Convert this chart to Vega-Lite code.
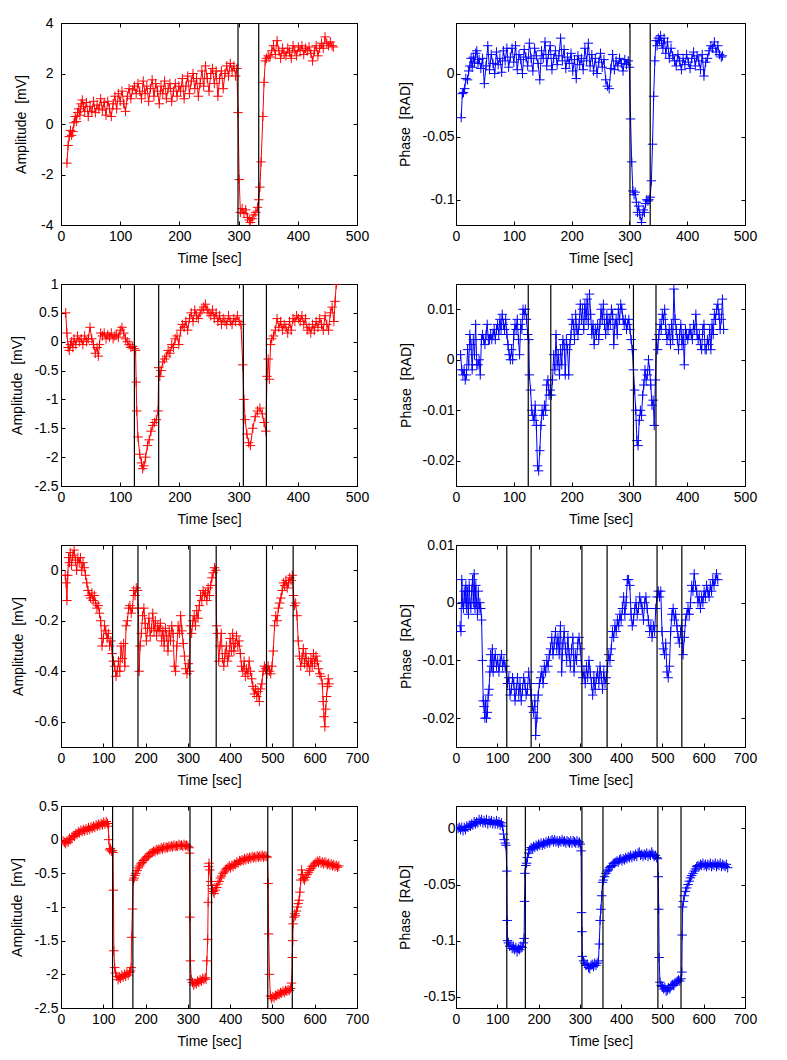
{
"$schema": "https://vega.github.io/schema/vega-lite/v6.json",
"background": "white",
"padding": {"left": 9, "top": 15, "right": 5, "bottom": 5},
"config": {
  "font": "Liberation Sans",
  "view": {"stroke": "#000", "strokeWidth": 1},
  "style": {"guide-title": {"fontWeight": "normal"}},
  "axis": {"grid": false, "domainColor": "#000", "tickColor": "#000", "tickSize": -4, "labelFont": "Liberation Sans", "labelFontSize": 14, "labelColor": "#000", "titleFont": "Liberation Sans", "titleFontSize": 14, "titleFontWeight": "normal", "titleColor": "#000", "labelFlush": false, "labelOverlap": false, "labelBound": false},
  "axisBottom": {"titleY": 37, "titleBaseline": "alphabetic"}
},
"datasets": {
"p1": [
{"t":10,"v":-1.55},{"t":12,"v":-0.85},{"t":14,"v":-0.5},{"t":16,"v":-0.25},{"t":18,"v":-0.45},{"t":20,"v":-0.3},{"t":22,"v":0.05},{"t":24,"v":0.3},{"t":26,"v":0.1},{"t":28,"v":0.45},{"t":30,"v":0.6},{"t":32,"v":0.35},{"t":34,"v":0.8},{"t":36,"v":0.95},{"t":38,"v":0.7},{"t":40,"v":0.5},{"t":43,"v":0.85},{"t":46,"v":0.3},{"t":49,"v":0.7},{"t":52,"v":0.5},{"t":55,"v":0.9},{"t":58,"v":0.45},{"t":61,"v":0.75},{"t":64,"v":0.6},{"t":67,"v":1.0},{"t":70,"v":0.55},{"t":73,"v":0.85},{"t":76,"v":0.35},{"t":79,"v":0.9},{"t":82,"v":0.6},{"t":85,"v":0.3},{"t":88,"v":0.8},{"t":91,"v":1.1},{"t":94,"v":0.6},{"t":97,"v":1.2},{"t":100,"v":0.9},{"t":103,"v":1.3},{"t":106,"v":0.8},{"t":109,"v":0.5},{"t":112,"v":1.1},{"t":115,"v":1.4},{"t":118,"v":1.0},{"t":121,"v":1.35},{"t":124,"v":1.5},{"t":127,"v":1.2},{"t":130,"v":1.6},{"t":133,"v":1.3},{"t":136,"v":1.0},{"t":139,"v":1.7},{"t":142,"v":1.2},{"t":145,"v":1.5},{"t":148,"v":0.9},{"t":151,"v":1.4},{"t":154,"v":1.75},{"t":157,"v":1.1},{"t":160,"v":1.6},{"t":163,"v":1.3},{"t":166,"v":0.8},{"t":169,"v":1.5},{"t":172,"v":1.2},{"t":175,"v":1.7},{"t":178,"v":1.0},{"t":181,"v":1.4},{"t":184,"v":1.6},{"t":187,"v":0.9},{"t":190,"v":1.3},{"t":193,"v":1.6},{"t":196,"v":1.1},{"t":199,"v":1.5},{"t":202,"v":1.3},{"t":205,"v":1.8},{"t":208,"v":1.0},{"t":211,"v":1.5},{"t":214,"v":1.9},{"t":217,"v":1.2},{"t":220,"v":1.7},{"t":223,"v":2.0},{"t":226,"v":1.4},{"t":229,"v":1.8},{"t":232,"v":1.1},{"t":235,"v":1.6},{"t":238,"v":2.1},{"t":241,"v":1.5},{"t":244,"v":2.3},{"t":247,"v":1.8},{"t":250,"v":1.3},{"t":253,"v":2.0},{"t":256,"v":2.2},{"t":259,"v":1.6},{"t":262,"v":2.1},{"t":265,"v":1.1},{"t":268,"v":1.8},{"t":271,"v":2.1},{"t":274,"v":1.4},{"t":277,"v":2.0},{"t":280,"v":2.3},{"t":283,"v":1.9},{"t":286,"v":2.4},{"t":289,"v":2.1},{"t":292,"v":2.3},{"t":295,"v":1.9},{"t":297,"v":2.2},{"t":299,"v":0.45},{"t":301,"v":-2.2},{"t":303,"v":-3.5},{"t":306,"v":-3.35},{"t":309,"v":-3.55},{"t":312,"v":-3.4},{"t":315,"v":-3.7},{"t":318,"v":-3.8},{"t":320,"v":-3.9},{"t":323,"v":-3.75},{"t":326,"v":-3.6},{"t":329,"v":-3.5},{"t":332,"v":-3.3},{"t":334,"v":-3.0},{"t":336,"v":-2.5},{"t":338,"v":-1.5},{"t":341,"v":0.3},{"t":343,"v":1.65},{"t":345,"v":2.5},{"t":347,"v":2.6},{"t":350,"v":2.7},{"t":353,"v":2.65},{"t":356,"v":2.9},{"t":359,"v":3.1},{"t":362,"v":2.75},{"t":365,"v":3.3},{"t":368,"v":2.9},{"t":371,"v":2.6},{"t":374,"v":3.0},{"t":377,"v":2.8},{"t":380,"v":2.7},{"t":383,"v":3.0},{"t":386,"v":2.85},{"t":389,"v":2.6},{"t":392,"v":3.1},{"t":395,"v":2.9},{"t":398,"v":2.7},{"t":401,"v":3.05},{"t":404,"v":2.9},{"t":407,"v":3.1},{"t":410,"v":2.75},{"t":413,"v":3.0},{"t":416,"v":2.9},{"t":419,"v":3.05},{"t":422,"v":2.8},{"t":425,"v":2.5},{"t":428,"v":2.9},{"t":431,"v":3.1},{"t":434,"v":2.7},{"t":437,"v":3.0},{"t":440,"v":3.2},{"t":443,"v":3.0},{"t":446,"v":3.45},{"t":449,"v":3.2},{"t":452,"v":3.1},{"t":455,"v":3.25},{"t":458,"v":3.1},{"t":460,"v":3.05}
],
"p2": [
{"t":9,"v":-0.035},{"t":11,"v":-0.016},{"t":13,"v":-0.015},{"t":15,"v":-0.012},{"t":17,"v":-0.004},{"t":20,"v":-0.005},{"t":22,"v":0.002},{"t":24,"v":0.006},{"t":26,"v":0.012},{"t":28,"v":0.005},{"t":30,"v":0.013},{"t":32,"v":0.009},{"t":34,"v":0.016},{"t":36,"v":0.018},{"t":38,"v":0.008},{"t":40,"v":0.011},{"t":43,"v":0.004},{"t":46,"v":0.012},{"t":49,"v":-0.008},{"t":52,"v":0.006},{"t":55,"v":0.022},{"t":58,"v":0.003},{"t":61,"v":0.015},{"t":64,"v":0.008},{"t":67,"v":0.0},{"t":70,"v":0.017},{"t":73,"v":0.007},{"t":76,"v":0.012},{"t":79,"v":0.001},{"t":82,"v":0.018},{"t":85,"v":0.01},{"t":88,"v":0.02},{"t":91,"v":0.005},{"t":94,"v":0.013},{"t":97,"v":0.02},{"t":100,"v":0.009},{"t":103,"v":0.022},{"t":106,"v":0.003},{"t":109,"v":0.015},{"t":112,"v":0.011},{"t":115,"v":0.0},{"t":118,"v":0.019},{"t":121,"v":0.013},{"t":124,"v":0.006},{"t":127,"v":0.024},{"t":130,"v":0.012},{"t":133,"v":0.002},{"t":136,"v":0.02},{"t":139,"v":0.014},{"t":142,"v":0.008},{"t":145,"v":-0.005},{"t":148,"v":0.018},{"t":151,"v":0.012},{"t":154,"v":0.025},{"t":157,"v":0.006},{"t":160,"v":0.015},{"t":163,"v":0.022},{"t":166,"v":0.003},{"t":169,"v":0.012},{"t":172,"v":0.018},{"t":175,"v":0.007},{"t":178,"v":0.014},{"t":181,"v":0.028},{"t":184,"v":0.01},{"t":187,"v":0.019},{"t":190,"v":0.004},{"t":193,"v":0.013},{"t":196,"v":0.008},{"t":199,"v":0.016},{"t":202,"v":0.002},{"t":205,"v":0.011},{"t":208,"v":-0.004},{"t":211,"v":0.014},{"t":214,"v":0.007},{"t":217,"v":0.012},{"t":220,"v":0.003},{"t":223,"v":0.02},{"t":226,"v":0.01},{"t":229,"v":0.024},{"t":232,"v":0.006},{"t":235,"v":0.015},{"t":238,"v":0.002},{"t":241,"v":0.012},{"t":244,"v":0.0},{"t":247,"v":0.009},{"t":250,"v":0.016},{"t":253,"v":0.005},{"t":256,"v":0.011},{"t":259,"v":-0.005},{"t":262,"v":-0.01},{"t":265,"v":-0.012},{"t":268,"v":0.004},{"t":271,"v":0.015},{"t":274,"v":0.003},{"t":277,"v":0.01},{"t":280,"v":0.006},{"t":283,"v":0.012},{"t":286,"v":0.008},{"t":289,"v":0.002},{"t":292,"v":0.011},{"t":295,"v":0.007},{"t":298,"v":0.01},{"t":300,"v":0.005},{"t":302,"v":-0.036},{"t":304,"v":-0.07},{"t":306,"v":-0.093},{"t":308,"v":-0.096},{"t":310,"v":-0.094},{"t":312,"v":-0.102},{"t":314,"v":-0.11},{"t":316,"v":-0.105},{"t":318,"v":-0.112},{"t":321,"v":-0.118},{"t":324,"v":-0.108},{"t":326,"v":-0.11},{"t":328,"v":-0.103},{"t":330,"v":-0.1},{"t":332,"v":-0.101},{"t":334,"v":-0.1},{"t":336,"v":-0.098},{"t":338,"v":-0.085},{"t":340,"v":-0.056},{"t":342,"v":-0.018},{"t":344,"v":0.01},{"t":346,"v":0.026},{"t":348,"v":0.022},{"t":350,"v":0.028},{"t":352,"v":0.026},{"t":354,"v":0.03},{"t":356,"v":0.024},{"t":358,"v":0.02},{"t":360,"v":0.028},{"t":363,"v":0.016},{"t":366,"v":0.025},{"t":369,"v":0.012},{"t":372,"v":0.02},{"t":375,"v":0.014},{"t":378,"v":0.01},{"t":381,"v":0.006},{"t":384,"v":0.015},{"t":387,"v":0.01},{"t":390,"v":0.003},{"t":393,"v":0.012},{"t":396,"v":0.007},{"t":399,"v":0.015},{"t":402,"v":0.009},{"t":405,"v":0.004},{"t":408,"v":0.012},{"t":411,"v":0.017},{"t":414,"v":0.006},{"t":417,"v":0.014},{"t":420,"v":0.01},{"t":423,"v":0.003},{"t":426,"v":0.015},{"t":429,"v":-0.002},{"t":432,"v":0.009},{"t":435,"v":0.012},{"t":438,"v":0.018},{"t":441,"v":0.022},{"t":444,"v":0.02},{"t":447,"v":0.025},{"t":450,"v":0.017},{"t":453,"v":0.022},{"t":456,"v":0.015},{"t":459,"v":0.013},{"t":461,"v":0.014}
],
"p3": [
{"t":8,"v":0.5},{"t":10,"v":0.15},{"t":12,"v":-0.1},{"t":14,"v":-0.15},{"t":16,"v":-0.05},{"t":18,"v":0.0},{"t":20,"v":-0.1},{"t":22,"v":0.05},{"t":25,"v":-0.05},{"t":28,"v":0.1},{"t":31,"v":0.0},{"t":34,"v":0.05},{"t":37,"v":-0.05},{"t":40,"v":0.1},{"t":43,"v":0.0},{"t":46,"v":0.05},{"t":49,"v":0.25},{"t":52,"v":0.05},{"t":55,"v":-0.05},{"t":58,"v":-0.2},{"t":61,"v":-0.1},{"t":63,"v":-0.25},{"t":65,"v":-0.05},{"t":67,"v":0.15},{"t":70,"v":0.1},{"t":73,"v":0.15},{"t":76,"v":0.05},{"t":79,"v":0.12},{"t":82,"v":0.08},{"t":85,"v":0.15},{"t":88,"v":0.05},{"t":91,"v":0.1},{"t":94,"v":0.12},{"t":97,"v":0.08},{"t":100,"v":0.2},{"t":103,"v":0.25},{"t":106,"v":0.15},{"t":109,"v":0.05},{"t":112,"v":0.0},{"t":115,"v":-0.05},{"t":118,"v":-0.1},{"t":121,"v":-0.08},{"t":124,"v":-0.12},{"t":126,"v":-0.15},{"t":127,"v":-0.7},{"t":128,"v":-1.2},{"t":130,"v":-1.65},{"t":133,"v":-1.95},{"t":136,"v":-2.1},{"t":138,"v":-2.2},{"t":140,"v":-2.15},{"t":143,"v":-2.0},{"t":146,"v":-1.8},{"t":149,"v":-1.7},{"t":152,"v":-1.55},{"t":155,"v":-1.45},{"t":158,"v":-1.4},{"t":161,"v":-1.35},{"t":164,"v":-1.2},{"t":165,"v":-0.45},{"t":167,"v":-0.6},{"t":169,"v":-0.5},{"t":172,"v":-0.35},{"t":175,"v":-0.3},{"t":178,"v":-0.25},{"t":181,"v":-0.15},{"t":184,"v":-0.2},{"t":187,"v":-0.05},{"t":190,"v":-0.1},{"t":193,"v":0.05},{"t":196,"v":0.1},{"t":199,"v":-0.05},{"t":202,"v":0.2},{"t":205,"v":0.3},{"t":208,"v":0.25},{"t":211,"v":0.35},{"t":214,"v":0.2},{"t":217,"v":0.4},{"t":220,"v":0.5},{"t":223,"v":0.35},{"t":226,"v":0.55},{"t":229,"v":0.45},{"t":232,"v":0.4},{"t":235,"v":0.5},{"t":238,"v":0.55},{"t":241,"v":0.6},{"t":244,"v":0.65},{"t":247,"v":0.55},{"t":250,"v":0.5},{"t":253,"v":0.45},{"t":256,"v":0.55},{"t":259,"v":0.4},{"t":262,"v":0.5},{"t":265,"v":0.35},{"t":268,"v":0.45},{"t":271,"v":0.3},{"t":274,"v":0.4},{"t":277,"v":0.35},{"t":280,"v":0.3},{"t":283,"v":0.45},{"t":286,"v":0.35},{"t":289,"v":0.3},{"t":292,"v":0.4},{"t":295,"v":0.35},{"t":298,"v":0.45},{"t":301,"v":0.35},{"t":304,"v":0.3},{"t":307,"v":-0.4},{"t":309,"v":-1.0},{"t":311,"v":-1.35},{"t":314,"v":-1.6},{"t":317,"v":-1.75},{"t":320,"v":-1.8},{"t":324,"v":-1.5},{"t":328,"v":-1.3},{"t":332,"v":-1.2},{"t":336,"v":-1.15},{"t":340,"v":-1.25},{"t":343,"v":-1.4},{"t":346,"v":-1.55},{"t":348,"v":-0.6},{"t":350,"v":-0.3},{"t":352,"v":-0.65},{"t":354,"v":-0.05},{"t":356,"v":0.05},{"t":359,"v":0.1},{"t":362,"v":0.2},{"t":365,"v":0.4},{"t":368,"v":0.25},{"t":371,"v":0.35},{"t":374,"v":0.2},{"t":377,"v":0.3},{"t":380,"v":0.25},{"t":383,"v":0.15},{"t":386,"v":0.35},{"t":389,"v":0.2},{"t":392,"v":0.4},{"t":395,"v":0.35},{"t":398,"v":0.45},{"t":401,"v":0.4},{"t":404,"v":0.35},{"t":407,"v":0.45},{"t":410,"v":0.3},{"t":413,"v":0.4},{"t":416,"v":0.2},{"t":419,"v":0.25},{"t":422,"v":0.15},{"t":425,"v":0.3},{"t":428,"v":0.2},{"t":431,"v":0.35},{"t":434,"v":0.25},{"t":437,"v":0.4},{"t":440,"v":0.3},{"t":443,"v":0.2},{"t":446,"v":0.45},{"t":449,"v":0.3},{"t":452,"v":0.2},{"t":455,"v":0.5},{"t":458,"v":0.6},{"t":461,"v":0.35},{"t":463,"v":0.7},{"t":465,"v":1.0}
],
"p4": [
{"t":8,"v":0.001},{"t":10,"v":-0.002},{"t":12,"v":-0.003},{"t":14,"v":-0.002},{"t":16,"v":-0.004},{"t":18,"v":-0.003},{"t":20,"v":0.002},{"t":22,"v":-0.001},{"t":24,"v":0.005},{"t":26,"v":0.003},{"t":28,"v":-0.002},{"t":30,"v":0.004},{"t":32,"v":0.001},{"t":34,"v":0.007},{"t":36,"v":-0.001},{"t":38,"v":-0.001},{"t":40,"v":0.0},{"t":42,"v":-0.003},{"t":44,"v":0.004},{"t":46,"v":0.005},{"t":48,"v":0.004},{"t":50,"v":0.003},{"t":52,"v":0.005},{"t":54,"v":0.007},{"t":56,"v":0.004},{"t":58,"v":0.004},{"t":60,"v":0.005},{"t":62,"v":0.004},{"t":64,"v":0.005},{"t":66,"v":0.006},{"t":68,"v":0.004},{"t":70,"v":0.006},{"t":72,"v":0.007},{"t":74,"v":0.005},{"t":76,"v":0.008},{"t":78,"v":0.006},{"t":80,"v":0.009},{"t":82,"v":0.007},{"t":84,"v":0.006},{"t":86,"v":0.008},{"t":88,"v":0.005},{"t":90,"v":0.003},{"t":92,"v":0.001},{"t":94,"v":0.0},{"t":96,"v":0.002},{"t":98,"v":0.0},{"t":100,"v":0.005},{"t":102,"v":0.007},{"t":104,"v":0.006},{"t":106,"v":0.008},{"t":108,"v":0.004},{"t":110,"v":0.001},{"t":112,"v":0.007},{"t":114,"v":0.006},{"t":116,"v":0.01},{"t":118,"v":0.009},{"t":120,"v":0.01},{"t":122,"v":0.008},{"t":124,"v":0.005},{"t":126,"v":0.004},{"t":127,"v":-0.003},{"t":129,"v":-0.006},{"t":131,"v":-0.01},{"t":133,"v":-0.011},{"t":135,"v":-0.012},{"t":137,"v":-0.009},{"t":139,"v":-0.013},{"t":141,"v":-0.021},{"t":143,"v":-0.022},{"t":145,"v":-0.018},{"t":147,"v":-0.013},{"t":149,"v":-0.01},{"t":151,"v":-0.011},{"t":153,"v":-0.009},{"t":155,"v":-0.01},{"t":157,"v":-0.005},{"t":159,"v":-0.004},{"t":161,"v":-0.007},{"t":163,"v":-0.006},{"t":165,"v":-0.007},{"t":167,"v":-0.004},{"t":169,"v":0.001},{"t":171,"v":-0.002},{"t":173,"v":0.005},{"t":175,"v":-0.001},{"t":177,"v":0.001},{"t":179,"v":-0.003},{"t":181,"v":0.002},{"t":183,"v":-0.001},{"t":185,"v":0.004},{"t":187,"v":0.003},{"t":189,"v":-0.003},{"t":191,"v":0.004},{"t":193,"v":0.002},{"t":195,"v":-0.003},{"t":197,"v":0.003},{"t":199,"v":0.005},{"t":201,"v":0.008},{"t":203,"v":0.007},{"t":205,"v":0.004},{"t":207,"v":0.009},{"t":209,"v":0.006},{"t":211,"v":0.005},{"t":213,"v":0.007},{"t":215,"v":0.011},{"t":217,"v":0.008},{"t":219,"v":0.01},{"t":221,"v":0.006},{"t":223,"v":0.011},{"t":225,"v":0.008},{"t":227,"v":0.012},{"t":229,"v":0.007},{"t":231,"v":0.013},{"t":233,"v":0.009},{"t":235,"v":0.005},{"t":237,"v":0.007},{"t":239,"v":0.003},{"t":241,"v":0.006},{"t":243,"v":0.005},{"t":245,"v":0.007},{"t":247,"v":0.004},{"t":249,"v":0.007},{"t":251,"v":0.01},{"t":253,"v":0.008},{"t":255,"v":0.011},{"t":257,"v":0.007},{"t":259,"v":0.005},{"t":261,"v":0.009},{"t":263,"v":0.006},{"t":265,"v":0.008},{"t":267,"v":0.007},{"t":269,"v":0.01},{"t":271,"v":0.009},{"t":273,"v":0.003},{"t":275,"v":0.007},{"t":277,"v":0.008},{"t":279,"v":0.005},{"t":281,"v":0.01},{"t":283,"v":0.008},{"t":285,"v":0.011},{"t":287,"v":0.01},{"t":289,"v":0.008},{"t":291,"v":0.007},{"t":293,"v":0.008},{"t":295,"v":0.006},{"t":297,"v":0.007},{"t":299,"v":0.008},{"t":301,"v":0.006},{"t":303,"v":0.004},{"t":305,"v":0.002},{"t":307,"v":-0.002},{"t":309,"v":-0.006},{"t":311,"v":-0.01},{"t":313,"v":-0.016},{"t":315,"v":-0.017},{"t":317,"v":-0.012},{"t":319,"v":-0.01},{"t":321,"v":-0.011},{"t":323,"v":-0.007},{"t":325,"v":-0.005},{"t":327,"v":-0.002},{"t":329,"v":-0.004},{"t":331,"v":-0.003},{"t":333,"v":0.0},{"t":335,"v":-0.002},{"t":337,"v":-0.005},{"t":339,"v":-0.009},{"t":341,"v":-0.008},{"t":343,"v":-0.013},{"t":345,"v":-0.004},{"t":347,"v":0.004},{"t":349,"v":0.002},{"t":351,"v":0.005},{"t":353,"v":0.007},{"t":355,"v":0.006},{"t":357,"v":0.009},{"t":359,"v":0.008},{"t":361,"v":0.01},{"t":363,"v":0.006},{"t":365,"v":0.004},{"t":367,"v":0.005},{"t":369,"v":0.006},{"t":371,"v":0.003},{"t":373,"v":0.007},{"t":375,"v":0.004},{"t":377,"v":0.014},{"t":379,"v":0.008},{"t":381,"v":0.006},{"t":383,"v":0.004},{"t":385,"v":0.002},{"t":387,"v":0.005},{"t":389,"v":0.007},{"t":391,"v":0.003},{"t":393,"v":0.005},{"t":395,"v":-0.001},{"t":397,"v":0.006},{"t":399,"v":0.005},{"t":401,"v":0.004},{"t":403,"v":0.005},{"t":405,"v":0.006},{"t":407,"v":0.005},{"t":409,"v":0.004},{"t":411,"v":0.007},{"t":413,"v":0.006},{"t":415,"v":0.009},{"t":417,"v":0.005},{"t":419,"v":0.004},{"t":421,"v":0.005},{"t":423,"v":0.003},{"t":425,"v":0.002},{"t":427,"v":0.006},{"t":429,"v":0.007},{"t":431,"v":0.002},{"t":433,"v":0.002},{"t":435,"v":0.004},{"t":437,"v":0.003},{"t":439,"v":0.006},{"t":441,"v":0.002},{"t":443,"v":0.007},{"t":445,"v":0.005},{"t":447,"v":0.009},{"t":449,"v":0.008},{"t":451,"v":0.01},{"t":453,"v":0.011},{"t":455,"v":0.009},{"t":457,"v":0.006},{"t":459,"v":0.008},{"t":461,"v":0.012},{"t":463,"v":0.006}
],
"p5": [
{"t":10,"v":-0.02},{"t":12,"v":-0.05},{"t":14,"v":-0.12},{"t":16,"v":-0.02},{"t":18,"v":0.05},{"t":20,"v":0.03},{"t":22,"v":0.07},{"t":25,"v":0.02},{"t":28,"v":0.06},{"t":31,"v":0.08},{"t":34,"v":0.04},{"t":37,"v":0.0},{"t":40,"v":0.05},{"t":43,"v":0.03},{"t":46,"v":0.05},{"t":49,"v":0.0},{"t":52,"v":0.03},{"t":55,"v":0.01},{"t":58,"v":-0.02},{"t":61,"v":-0.05},{"t":64,"v":-0.08},{"t":67,"v":-0.1},{"t":70,"v":-0.11},{"t":73,"v":-0.09},{"t":76,"v":-0.12},{"t":79,"v":-0.1},{"t":82,"v":-0.13},{"t":85,"v":-0.15},{"t":88,"v":-0.14},{"t":91,"v":-0.17},{"t":94,"v":-0.2},{"t":97,"v":-0.3},{"t":100,"v":-0.27},{"t":103,"v":-0.22},{"t":106,"v":-0.24},{"t":109,"v":-0.27},{"t":112,"v":-0.25},{"t":115,"v":-0.3},{"t":118,"v":-0.28},{"t":121,"v":-0.33},{"t":124,"v":-0.36},{"t":127,"v":-0.38},{"t":130,"v":-0.42},{"t":133,"v":-0.4},{"t":136,"v":-0.36},{"t":139,"v":-0.4},{"t":142,"v":-0.3},{"t":145,"v":-0.35},{"t":148,"v":-0.29},{"t":151,"v":-0.38},{"t":154,"v":-0.22},{"t":157,"v":-0.2},{"t":160,"v":-0.15},{"t":163,"v":-0.14},{"t":166,"v":-0.17},{"t":169,"v":-0.15},{"t":172,"v":-0.08},{"t":175,"v":-0.1},{"t":178,"v":-0.07},{"t":181,"v":-0.08},{"t":183,"v":-0.15},{"t":185,"v":-0.4},{"t":187,"v":-0.3},{"t":190,"v":-0.25},{"t":193,"v":-0.18},{"t":196,"v":-0.15},{"t":199,"v":-0.21},{"t":202,"v":-0.28},{"t":205,"v":-0.23},{"t":208,"v":-0.19},{"t":211,"v":-0.26},{"t":214,"v":-0.23},{"t":217,"v":-0.17},{"t":220,"v":-0.24},{"t":223,"v":-0.2},{"t":226,"v":-0.26},{"t":229,"v":-0.22},{"t":232,"v":-0.24},{"t":235,"v":-0.21},{"t":238,"v":-0.28},{"t":241,"v":-0.24},{"t":244,"v":-0.3},{"t":247,"v":-0.23},{"t":250,"v":-0.26},{"t":253,"v":-0.32},{"t":256,"v":-0.24},{"t":259,"v":-0.28},{"t":262,"v":-0.22},{"t":265,"v":-0.25},{"t":268,"v":-0.38},{"t":271,"v":-0.4},{"t":274,"v":-0.3},{"t":277,"v":-0.22},{"t":280,"v":-0.25},{"t":283,"v":-0.18},{"t":286,"v":-0.24},{"t":289,"v":-0.29},{"t":292,"v":-0.34},{"t":295,"v":-0.39},{"t":298,"v":-0.41},{"t":301,"v":-0.37},{"t":304,"v":-0.4},{"t":306,"v":-0.22},{"t":309,"v":-0.25},{"t":312,"v":-0.2},{"t":315,"v":-0.18},{"t":318,"v":-0.22},{"t":321,"v":-0.16},{"t":324,"v":-0.19},{"t":327,"v":-0.14},{"t":330,"v":-0.1},{"t":333,"v":-0.12},{"t":336,"v":-0.08},{"t":339,"v":-0.1},{"t":342,"v":-0.09},{"t":345,"v":-0.12},{"t":348,"v":-0.07},{"t":351,"v":-0.1},{"t":354,"v":-0.06},{"t":357,"v":-0.03},{"t":360,"v":-0.01},{"t":363,"v":0.01},{"t":366,"v":0.0},{"t":368,"v":-0.22},{"t":370,"v":-0.25},{"t":373,"v":-0.36},{"t":376,"v":-0.3},{"t":379,"v":-0.25},{"t":382,"v":-0.35},{"t":385,"v":-0.38},{"t":388,"v":-0.33},{"t":391,"v":-0.3},{"t":394,"v":-0.36},{"t":397,"v":-0.34},{"t":400,"v":-0.27},{"t":403,"v":-0.32},{"t":406,"v":-0.25},{"t":409,"v":-0.32},{"t":412,"v":-0.29},{"t":415,"v":-0.26},{"t":418,"v":-0.3},{"t":421,"v":-0.28},{"t":424,"v":-0.33},{"t":427,"v":-0.38},{"t":430,"v":-0.4},{"t":433,"v":-0.36},{"t":436,"v":-0.42},{"t":439,"v":-0.39},{"t":442,"v":-0.41},{"t":445,"v":-0.36},{"t":448,"v":-0.4},{"t":451,"v":-0.43},{"t":454,"v":-0.46},{"t":457,"v":-0.49},{"t":460,"v":-0.47},{"t":463,"v":-0.5},{"t":466,"v":-0.48},{"t":469,"v":-0.52},{"t":472,"v":-0.47},{"t":475,"v":-0.45},{"t":478,"v":-0.4},{"t":481,"v":-0.38},{"t":484,"v":-0.39},{"t":487,"v":-0.41},{"t":490,"v":-0.38},{"t":493,"v":-0.4},{"t":496,"v":-0.41},{"t":499,"v":-0.38},{"t":502,"v":-0.32},{"t":505,"v":-0.22},{"t":508,"v":-0.18},{"t":511,"v":-0.2},{"t":514,"v":-0.15},{"t":517,"v":-0.13},{"t":520,"v":-0.11},{"t":523,"v":-0.08},{"t":526,"v":-0.05},{"t":529,"v":-0.06},{"t":532,"v":-0.04},{"t":535,"v":-0.07},{"t":538,"v":-0.05},{"t":541,"v":-0.03},{"t":544,"v":-0.04},{"t":547,"v":-0.02},{"t":550,"v":-0.1},{"t":552,"v":-0.14},{"t":555,"v":-0.13},{"t":558,"v":-0.18},{"t":561,"v":-0.28},{"t":564,"v":-0.34},{"t":567,"v":-0.38},{"t":570,"v":-0.35},{"t":573,"v":-0.31},{"t":576,"v":-0.37},{"t":579,"v":-0.33},{"t":582,"v":-0.38},{"t":585,"v":-0.36},{"t":588,"v":-0.4},{"t":591,"v":-0.35},{"t":594,"v":-0.38},{"t":597,"v":-0.33},{"t":600,"v":-0.37},{"t":603,"v":-0.34},{"t":606,"v":-0.36},{"t":609,"v":-0.39},{"t":612,"v":-0.41},{"t":615,"v":-0.42},{"t":618,"v":-0.45},{"t":620,"v":-0.52},{"t":622,"v":-0.58},{"t":624,"v":-0.62},{"t":626,"v":-0.55},{"t":628,"v":-0.5},{"t":630,"v":-0.46},{"t":632,"v":-0.43},{"t":634,"v":-0.45}
],
"p6": [
{"t":10,"v":-0.004},{"t":12,"v":-0.005},{"t":14,"v":0.004},{"t":16,"v":0.0},{"t":18,"v":-0.001},{"t":20,"v":0.002},{"t":22,"v":0.0},{"t":24,"v":0.003},{"t":26,"v":-0.001},{"t":28,"v":0.002},{"t":30,"v":-0.002},{"t":32,"v":0.003},{"t":34,"v":0.0},{"t":36,"v":-0.001},{"t":38,"v":0.002},{"t":40,"v":0.004},{"t":42,"v":0.0},{"t":44,"v":0.005},{"t":46,"v":-0.001},{"t":48,"v":0.003},{"t":50,"v":0.0},{"t":52,"v":-0.002},{"t":54,"v":0.002},{"t":56,"v":-0.001},{"t":58,"v":0.0},{"t":60,"v":-0.001},{"t":62,"v":-0.003},{"t":64,"v":-0.01},{"t":66,"v":-0.017},{"t":68,"v":-0.018},{"t":70,"v":-0.02},{"t":72,"v":-0.017},{"t":74,"v":-0.02},{"t":76,"v":-0.019},{"t":78,"v":-0.016},{"t":80,"v":-0.015},{"t":82,"v":-0.012},{"t":84,"v":-0.009},{"t":86,"v":-0.011},{"t":88,"v":-0.008},{"t":90,"v":-0.012},{"t":92,"v":-0.01},{"t":95,"v":-0.009},{"t":98,"v":-0.011},{"t":101,"v":-0.01},{"t":104,"v":-0.012},{"t":107,"v":-0.01},{"t":110,"v":-0.009},{"t":113,"v":-0.011},{"t":116,"v":-0.01},{"t":119,"v":-0.011},{"t":122,"v":-0.012},{"t":125,"v":-0.014},{"t":128,"v":-0.013},{"t":131,"v":-0.016},{"t":134,"v":-0.015},{"t":137,"v":-0.013},{"t":140,"v":-0.014},{"t":143,"v":-0.017},{"t":146,"v":-0.015},{"t":149,"v":-0.013},{"t":152,"v":-0.016},{"t":155,"v":-0.014},{"t":158,"v":-0.017},{"t":161,"v":-0.015},{"t":164,"v":-0.013},{"t":167,"v":-0.014},{"t":170,"v":-0.016},{"t":173,"v":-0.015},{"t":176,"v":-0.012},{"t":179,"v":-0.014},{"t":182,"v":-0.016},{"t":185,"v":-0.018},{"t":188,"v":-0.019},{"t":191,"v":-0.017},{"t":193,"v":-0.023},{"t":196,"v":-0.02},{"t":199,"v":-0.016},{"t":202,"v":-0.014},{"t":205,"v":-0.013},{"t":208,"v":-0.012},{"t":211,"v":-0.014},{"t":214,"v":-0.011},{"t":217,"v":-0.012},{"t":220,"v":-0.01},{"t":223,"v":-0.011},{"t":226,"v":-0.009},{"t":229,"v":-0.008},{"t":232,"v":-0.006},{"t":235,"v":-0.009},{"t":238,"v":-0.007},{"t":241,"v":-0.005},{"t":244,"v":-0.008},{"t":247,"v":-0.006},{"t":250,"v":-0.009},{"t":253,"v":-0.004},{"t":256,"v":-0.012},{"t":259,"v":-0.007},{"t":262,"v":-0.005},{"t":265,"v":-0.008},{"t":268,"v":-0.01},{"t":271,"v":-0.006},{"t":274,"v":-0.009},{"t":277,"v":-0.011},{"t":280,"v":-0.008},{"t":283,"v":-0.006},{"t":286,"v":-0.012},{"t":289,"v":-0.009},{"t":292,"v":-0.01},{"t":295,"v":-0.007},{"t":298,"v":-0.006},{"t":301,"v":-0.008},{"t":304,"v":-0.011},{"t":307,"v":-0.013},{"t":310,"v":-0.012},{"t":313,"v":-0.014},{"t":316,"v":-0.011},{"t":319,"v":-0.013},{"t":322,"v":-0.01},{"t":325,"v":-0.012},{"t":328,"v":-0.014},{"t":331,"v":-0.016},{"t":334,"v":-0.013},{"t":337,"v":-0.015},{"t":340,"v":-0.013},{"t":343,"v":-0.012},{"t":346,"v":-0.014},{"t":349,"v":-0.011},{"t":352,"v":-0.013},{"t":355,"v":-0.015},{"t":358,"v":-0.012},{"t":361,"v":-0.014},{"t":364,"v":-0.013},{"t":367,"v":-0.011},{"t":370,"v":-0.009},{"t":373,"v":-0.01},{"t":376,"v":-0.008},{"t":379,"v":-0.005},{"t":382,"v":-0.006},{"t":385,"v":-0.004},{"t":388,"v":-0.005},{"t":391,"v":-0.003},{"t":394,"v":-0.004},{"t":397,"v":-0.002},{"t":400,"v":-0.003},{"t":403,"v":-0.001},{"t":406,"v":0.001},{"t":409,"v":-0.002},{"t":412,"v":0.0},{"t":415,"v":0.004},{"t":418,"v":0.004},{"t":421,"v":0.003},{"t":424,"v":-0.002},{"t":427,"v":-0.004},{"t":430,"v":-0.003},{"t":433,"v":-0.001},{"t":436,"v":0.0},{"t":439,"v":-0.002},{"t":442,"v":-0.001},{"t":445,"v":0.001},{"t":448,"v":0.0},{"t":451,"v":-0.001},{"t":454,"v":-0.003},{"t":457,"v":0.0},{"t":460,"v":0.001},{"t":463,"v":-0.001},{"t":466,"v":-0.003},{"t":469,"v":-0.005},{"t":472,"v":-0.004},{"t":475,"v":-0.006},{"t":478,"v":-0.004},{"t":481,"v":-0.005},{"t":484,"v":-0.001},{"t":487,"v":0.001},{"t":490,"v":0.002},{"t":493,"v":0.001},{"t":496,"v":0.002},{"t":499,"v":-0.005},{"t":502,"v":-0.008},{"t":505,"v":-0.009},{"t":508,"v":-0.007},{"t":511,"v":-0.012},{"t":514,"v":-0.013},{"t":517,"v":-0.011},{"t":520,"v":-0.005},{"t":523,"v":-0.002},{"t":526,"v":-0.001},{"t":529,"v":-0.003},{"t":532,"v":-0.002},{"t":535,"v":-0.004},{"t":538,"v":-0.006},{"t":541,"v":-0.007},{"t":544,"v":-0.005},{"t":547,"v":-0.004},{"t":550,"v":-0.009},{"t":553,"v":-0.006},{"t":556,"v":-0.003},{"t":559,"v":-0.002},{"t":562,"v":-0.001},{"t":565,"v":-0.002},{"t":568,"v":0.0},{"t":571,"v":0.003},{"t":574,"v":0.002},{"t":577,"v":0.005},{"t":580,"v":0.003},{"t":583,"v":0.002},{"t":586,"v":0.0},{"t":589,"v":0.001},{"t":592,"v":-0.001},{"t":595,"v":0.001},{"t":598,"v":0.0},{"t":601,"v":0.002},{"t":604,"v":0.001},{"t":607,"v":0.003},{"t":610,"v":0.002},{"t":613,"v":0.001},{"t":616,"v":0.003},{"t":619,"v":0.002},{"t":622,"v":0.004},{"t":625,"v":0.003},{"t":628,"v":0.004},{"t":631,"v":0.005},{"t":634,"v":0.004}
],
"p7": [
{"t":5,"v":-0.02},{"t":8,"v":-0.04},{"t":11,"v":-0.06},{"t":14,"v":-0.02},{"t":17,"v":-0.04},{"t":20,"v":0.02},{"t":23,"v":0.0},{"t":26,"v":0.04},{"t":29,"v":0.06},{"t":32,"v":0.05},{"t":35,"v":0.09},{"t":38,"v":0.08},{"t":41,"v":0.12},{"t":44,"v":0.1},{"t":47,"v":0.14},{"t":50,"v":0.12},{"t":53,"v":0.15},{"t":56,"v":0.13},{"t":59,"v":0.16},{"t":62,"v":0.14},{"t":65,"v":0.18},{"t":68,"v":0.15},{"t":71,"v":0.19},{"t":74,"v":0.17},{"t":77,"v":0.2},{"t":80,"v":0.18},{"t":83,"v":0.22},{"t":86,"v":0.2},{"t":89,"v":0.23},{"t":92,"v":0.21},{"t":95,"v":0.24},{"t":98,"v":0.22},{"t":101,"v":0.26},{"t":104,"v":0.23},{"t":107,"v":0.27},{"t":110,"v":0.24},{"t":112,"v":0.2},{"t":113,"v":0.0},{"t":115,"v":-0.15},{"t":117,"v":-0.13},{"t":119,"v":-0.17},{"t":121,"v":-0.16},{"t":123,"v":-0.19},{"t":124,"v":-0.75},{"t":125,"v":-1.65},{"t":127,"v":-1.9},{"t":129,"v":-1.98},{"t":132,"v":-2.03},{"t":135,"v":-2.08},{"t":138,"v":-2.04},{"t":141,"v":-2.06},{"t":144,"v":-2.01},{"t":147,"v":-2.04},{"t":150,"v":-2.0},{"t":153,"v":-2.03},{"t":156,"v":-1.98},{"t":159,"v":-2.01},{"t":162,"v":-1.97},{"t":164,"v":-1.95},{"t":166,"v":-1.9},{"t":167,"v":-1.45},{"t":169,"v":-1.03},{"t":171,"v":-0.6},{"t":173,"v":-0.57},{"t":175,"v":-0.53},{"t":177,"v":-0.5},{"t":180,"v":-0.46},{"t":183,"v":-0.42},{"t":186,"v":-0.39},{"t":189,"v":-0.36},{"t":192,"v":-0.34},{"t":195,"v":-0.31},{"t":198,"v":-0.29},{"t":201,"v":-0.27},{"t":204,"v":-0.25},{"t":207,"v":-0.24},{"t":210,"v":-0.21},{"t":213,"v":-0.2},{"t":216,"v":-0.19},{"t":219,"v":-0.17},{"t":222,"v":-0.18},{"t":225,"v":-0.15},{"t":228,"v":-0.16},{"t":231,"v":-0.14},{"t":234,"v":-0.15},{"t":237,"v":-0.12},{"t":240,"v":-0.14},{"t":243,"v":-0.11},{"t":246,"v":-0.13},{"t":249,"v":-0.11},{"t":252,"v":-0.12},{"t":255,"v":-0.1},{"t":258,"v":-0.11},{"t":261,"v":-0.09},{"t":264,"v":-0.11},{"t":267,"v":-0.08},{"t":270,"v":-0.1},{"t":273,"v":-0.09},{"t":276,"v":-0.1},{"t":279,"v":-0.07},{"t":282,"v":-0.09},{"t":285,"v":-0.08},{"t":288,"v":-0.1},{"t":291,"v":-0.07},{"t":294,"v":-0.09},{"t":297,"v":-0.08},{"t":300,"v":-0.1},{"t":303,"v":-0.12},{"t":304,"v":-0.2},{"t":305,"v":-1.15},{"t":306,"v":-1.8},{"t":308,"v":-2.08},{"t":311,"v":-2.12},{"t":314,"v":-2.16},{"t":317,"v":-2.13},{"t":320,"v":-2.14},{"t":323,"v":-2.1},{"t":326,"v":-2.12},{"t":329,"v":-2.08},{"t":332,"v":-2.1},{"t":335,"v":-2.06},{"t":338,"v":-2.08},{"t":341,"v":-2.05},{"t":343,"v":-2.07},{"t":345,"v":-1.8},{"t":347,"v":-1.48},{"t":348,"v":-0.93},{"t":349,"v":-0.4},{"t":350,"v":-0.35},{"t":352,"v":-0.45},{"t":354,"v":-0.62},{"t":356,"v":-0.68},{"t":358,"v":-0.73},{"t":360,"v":-0.77},{"t":362,"v":-0.8},{"t":365,"v":-0.75},{"t":368,"v":-0.71},{"t":371,"v":-0.66},{"t":374,"v":-0.62},{"t":377,"v":-0.57},{"t":380,"v":-0.54},{"t":383,"v":-0.5},{"t":386,"v":-0.48},{"t":389,"v":-0.45},{"t":392,"v":-0.43},{"t":395,"v":-0.41},{"t":398,"v":-0.39},{"t":401,"v":-0.42},{"t":404,"v":-0.38},{"t":407,"v":-0.4},{"t":410,"v":-0.36},{"t":413,"v":-0.37},{"t":416,"v":-0.33},{"t":419,"v":-0.35},{"t":422,"v":-0.31},{"t":425,"v":-0.32},{"t":428,"v":-0.3},{"t":431,"v":-0.31},{"t":434,"v":-0.28},{"t":437,"v":-0.3},{"t":440,"v":-0.27},{"t":443,"v":-0.29},{"t":446,"v":-0.26},{"t":449,"v":-0.28},{"t":452,"v":-0.25},{"t":455,"v":-0.27},{"t":458,"v":-0.25},{"t":461,"v":-0.27},{"t":464,"v":-0.24},{"t":467,"v":-0.26},{"t":470,"v":-0.24},{"t":473,"v":-0.26},{"t":476,"v":-0.23},{"t":479,"v":-0.26},{"t":482,"v":-0.24},{"t":485,"v":-0.25},{"t":488,"v":-0.26},{"t":490,"v":-0.65},{"t":491,"v":-1.4},{"t":493,"v":-2.0},{"t":495,"v":-2.32},{"t":498,"v":-2.36},{"t":501,"v":-2.33},{"t":504,"v":-2.35},{"t":507,"v":-2.31},{"t":510,"v":-2.32},{"t":513,"v":-2.29},{"t":516,"v":-2.3},{"t":519,"v":-2.27},{"t":522,"v":-2.28},{"t":525,"v":-2.25},{"t":528,"v":-2.27},{"t":531,"v":-2.24},{"t":534,"v":-2.25},{"t":537,"v":-2.23},{"t":540,"v":-2.24},{"t":543,"v":-2.21},{"t":545,"v":-2.13},{"t":547,"v":-1.75},{"t":548,"v":-1.5},{"t":549,"v":-1.25},{"t":551,"v":-1.15},{"t":553,"v":-1.1},{"t":555,"v":-1.13},{"t":557,"v":-1.06},{"t":559,"v":-1.0},{"t":561,"v":-0.95},{"t":563,"v":-0.9},{"t":565,"v":-0.78},{"t":567,"v":-0.6},{"t":569,"v":-0.45},{"t":571,"v":-0.52},{"t":573,"v":-0.58},{"t":576,"v":-0.6},{"t":579,"v":-0.56},{"t":582,"v":-0.52},{"t":585,"v":-0.49},{"t":588,"v":-0.46},{"t":591,"v":-0.43},{"t":594,"v":-0.4},{"t":597,"v":-0.38},{"t":600,"v":-0.36},{"t":603,"v":-0.34},{"t":606,"v":-0.32},{"t":609,"v":-0.34},{"t":612,"v":-0.31},{"t":615,"v":-0.35},{"t":618,"v":-0.33},{"t":621,"v":-0.36},{"t":624,"v":-0.33},{"t":627,"v":-0.35},{"t":630,"v":-0.37},{"t":633,"v":-0.35},{"t":636,"v":-0.38},{"t":639,"v":-0.36},{"t":642,"v":-0.39},{"t":645,"v":-0.37},{"t":648,"v":-0.4},{"t":651,"v":-0.38},{"t":654,"v":-0.41},{"t":657,"v":-0.39}
],
"p8": [
{"t":5,"v":0.0},{"t":8,"v":0.001},{"t":11,"v":-0.001},{"t":14,"v":0.001},{"t":17,"v":-0.002},{"t":20,"v":0.001},{"t":23,"v":-0.001},{"t":26,"v":0.002},{"t":29,"v":0.001},{"t":32,"v":0.003},{"t":35,"v":0.002},{"t":38,"v":0.004},{"t":41,"v":0.003},{"t":44,"v":0.006},{"t":47,"v":0.004},{"t":50,"v":0.006},{"t":53,"v":0.005},{"t":56,"v":0.008},{"t":59,"v":0.006},{"t":62,"v":0.008},{"t":65,"v":0.005},{"t":68,"v":0.007},{"t":71,"v":0.005},{"t":74,"v":0.008},{"t":77,"v":0.004},{"t":80,"v":0.007},{"t":83,"v":0.005},{"t":86,"v":0.007},{"t":89,"v":0.004},{"t":92,"v":0.006},{"t":95,"v":0.004},{"t":98,"v":0.007},{"t":101,"v":0.004},{"t":104,"v":0.006},{"t":107,"v":0.003},{"t":110,"v":0.005},{"t":113,"v":0.002},{"t":115,"v":-0.005},{"t":117,"v":-0.01},{"t":119,"v":-0.013},{"t":121,"v":-0.015},{"t":123,"v":-0.038},{"t":124,"v":-0.082},{"t":125,"v":-0.1},{"t":127,"v":-0.102},{"t":130,"v":-0.105},{"t":133,"v":-0.104},{"t":136,"v":-0.107},{"t":139,"v":-0.105},{"t":142,"v":-0.108},{"t":145,"v":-0.106},{"t":148,"v":-0.11},{"t":151,"v":-0.107},{"t":154,"v":-0.108},{"t":157,"v":-0.105},{"t":160,"v":-0.106},{"t":163,"v":-0.102},{"t":165,"v":-0.098},{"t":166,"v":-0.065},{"t":167,"v":-0.04},{"t":169,"v":-0.033},{"t":171,"v":-0.031},{"t":173,"v":-0.026},{"t":176,"v":-0.022},{"t":179,"v":-0.019},{"t":182,"v":-0.017},{"t":185,"v":-0.018},{"t":188,"v":-0.016},{"t":191,"v":-0.017},{"t":194,"v":-0.015},{"t":197,"v":-0.016},{"t":200,"v":-0.014},{"t":203,"v":-0.015},{"t":206,"v":-0.013},{"t":209,"v":-0.015},{"t":212,"v":-0.013},{"t":215,"v":-0.014},{"t":218,"v":-0.012},{"t":221,"v":-0.013},{"t":224,"v":-0.011},{"t":227,"v":-0.013},{"t":230,"v":-0.011},{"t":233,"v":-0.01},{"t":236,"v":-0.012},{"t":239,"v":-0.01},{"t":242,"v":-0.012},{"t":245,"v":-0.011},{"t":248,"v":-0.013},{"t":251,"v":-0.011},{"t":254,"v":-0.012},{"t":257,"v":-0.01},{"t":260,"v":-0.012},{"t":263,"v":-0.011},{"t":266,"v":-0.013},{"t":269,"v":-0.011},{"t":272,"v":-0.012},{"t":275,"v":-0.013},{"t":278,"v":-0.011},{"t":281,"v":-0.013},{"t":284,"v":-0.011},{"t":287,"v":-0.012},{"t":290,"v":-0.013},{"t":293,"v":-0.011},{"t":296,"v":-0.013},{"t":299,"v":-0.012},{"t":301,"v":-0.014},{"t":303,"v":-0.02},{"t":304,"v":-0.075},{"t":305,"v":-0.092},{"t":306,"v":-0.114},{"t":309,"v":-0.118},{"t":312,"v":-0.12},{"t":315,"v":-0.122},{"t":318,"v":-0.121},{"t":321,"v":-0.124},{"t":324,"v":-0.125},{"t":327,"v":-0.122},{"t":330,"v":-0.121},{"t":333,"v":-0.123},{"t":336,"v":-0.12},{"t":339,"v":-0.122},{"t":342,"v":-0.12},{"t":345,"v":-0.118},{"t":347,"v":-0.103},{"t":349,"v":-0.082},{"t":351,"v":-0.072},{"t":353,"v":-0.06},{"t":355,"v":-0.048},{"t":357,"v":-0.046},{"t":360,"v":-0.043},{"t":363,"v":-0.04},{"t":366,"v":-0.038},{"t":369,"v":-0.037},{"t":372,"v":-0.035},{"t":375,"v":-0.034},{"t":378,"v":-0.033},{"t":381,"v":-0.031},{"t":384,"v":-0.031},{"t":387,"v":-0.03},{"t":390,"v":-0.029},{"t":393,"v":-0.03},{"t":396,"v":-0.028},{"t":399,"v":-0.027},{"t":402,"v":-0.029},{"t":405,"v":-0.027},{"t":408,"v":-0.028},{"t":411,"v":-0.026},{"t":414,"v":-0.027},{"t":417,"v":-0.025},{"t":420,"v":-0.026},{"t":423,"v":-0.024},{"t":426,"v":-0.026},{"t":429,"v":-0.024},{"t":432,"v":-0.025},{"t":435,"v":-0.023},{"t":438,"v":-0.025},{"t":441,"v":-0.022},{"t":444,"v":-0.021},{"t":447,"v":-0.024},{"t":450,"v":-0.023},{"t":453,"v":-0.025},{"t":456,"v":-0.023},{"t":459,"v":-0.024},{"t":462,"v":-0.022},{"t":465,"v":-0.025},{"t":468,"v":-0.023},{"t":471,"v":-0.024},{"t":474,"v":-0.021},{"t":477,"v":-0.023},{"t":480,"v":-0.025},{"t":483,"v":-0.024},{"t":486,"v":-0.026},{"t":488,"v":-0.027},{"t":490,"v":-0.043},{"t":491,"v":-0.072},{"t":492,"v":-0.115},{"t":494,"v":-0.137},{"t":497,"v":-0.14},{"t":500,"v":-0.141},{"t":503,"v":-0.143},{"t":506,"v":-0.142},{"t":509,"v":-0.145},{"t":512,"v":-0.144},{"t":515,"v":-0.142},{"t":518,"v":-0.143},{"t":521,"v":-0.14},{"t":524,"v":-0.139},{"t":527,"v":-0.14},{"t":530,"v":-0.138},{"t":533,"v":-0.137},{"t":536,"v":-0.136},{"t":539,"v":-0.135},{"t":542,"v":-0.136},{"t":545,"v":-0.134},{"t":547,"v":-0.128},{"t":548,"v":-0.095},{"t":549,"v":-0.07},{"t":551,"v":-0.065},{"t":553,"v":-0.06},{"t":556,"v":-0.056},{"t":559,"v":-0.053},{"t":562,"v":-0.05},{"t":565,"v":-0.047},{"t":568,"v":-0.044},{"t":571,"v":-0.042},{"t":574,"v":-0.04},{"t":577,"v":-0.038},{"t":580,"v":-0.036},{"t":583,"v":-0.034},{"t":586,"v":-0.033},{"t":589,"v":-0.034},{"t":592,"v":-0.032},{"t":595,"v":-0.033},{"t":598,"v":-0.031},{"t":601,"v":-0.033},{"t":604,"v":-0.032},{"t":607,"v":-0.034},{"t":610,"v":-0.032},{"t":613,"v":-0.033},{"t":616,"v":-0.031},{"t":619,"v":-0.034},{"t":622,"v":-0.032},{"t":625,"v":-0.033},{"t":628,"v":-0.031},{"t":631,"v":-0.034},{"t":634,"v":-0.032},{"t":637,"v":-0.033},{"t":640,"v":-0.031},{"t":643,"v":-0.034},{"t":646,"v":-0.032},{"t":649,"v":-0.033},{"t":652,"v":-0.034},{"t":655,"v":-0.032},{"t":658,"v":-0.035}
]
},
"columns": 2,
"spacing": {"row": 59, "column": 99},
"bounds": "flush",
"concat": [
{"width": 296, "height": 202, "resolve": {"axis": {"x": "independent", "y": "independent"}},
 "layer": [
  {"data": {"name": "p1"}, "mark": {"type": "line", "color": "#ff0000", "strokeWidth": 1, "clip": true},
   "encoding": {"x": {"field": "t", "type": "quantitative", "scale": {"domain": [0, 500], "nice": false, "zero": false}, "axis": {"orient": "bottom", "values": [0,100,200,300,400,500], "title": "Time [sec]", "titleFontWeight": "normal", "labelExpr": "'' + datum.value", "labelPadding": 8}},
                "y": {"field": "v", "type": "quantitative", "scale": {"domain": [-4, 4], "nice": false, "zero": false}, "axis": {"orient": "left", "values": [-4,-2,0,2,4], "title": "Amplitude\u00a0 [mV]", "titleFontWeight": "normal", "labelExpr": "'' + datum.value", "labelPadding": 12, "titleX": -40, "titleBaseline": "middle"}}}},
  {"data": {"name": "p1"}, "mark": {"type": "point", "shape": "M-1,0H1M0,-1V1", "filled": false, "color": "#ff0000", "size": 90, "strokeWidth": 1, "opacity": 1, "clip": true},
   "encoding": {"x": {"field": "t", "type": "quantitative", "scale": {"domain": [0, 500], "nice": false, "zero": false}, "axis": {"orient": "top", "values": [0,100,200,300,400,500], "labels": false, "title": null}},
                "y": {"field": "v", "type": "quantitative", "scale": {"domain": [-4, 4], "nice": false, "zero": false}, "axis": {"orient": "right", "values": [-4,-2,0,2,4], "labels": false, "title": null}}}},
  {"data": {"values": [{"t": 299}, {"t": 334}]}, "mark": {"type": "rule", "color": "#000", "strokeWidth": 1.2},
   "encoding": {"x": {"field": "t", "type": "quantitative", "scale": {"domain": [0, 500], "nice": false, "zero": false}, "axis": null}}}
 ]},
{"width": 289, "height": 202, "resolve": {"axis": {"x": "independent", "y": "independent"}},
 "layer": [
  {"data": {"name": "p2"}, "mark": {"type": "line", "color": "#0000ff", "strokeWidth": 1, "clip": true},
   "encoding": {"x": {"field": "t", "type": "quantitative", "scale": {"domain": [0, 500], "nice": false, "zero": false}, "axis": {"orient": "bottom", "values": [0,100,200,300,400,500], "title": "Time [sec]", "titleFontWeight": "normal", "labelExpr": "'' + datum.value", "labelPadding": 8}},
                "y": {"field": "v", "type": "quantitative", "scale": {"domain": [-0.12, 0.04], "nice": false, "zero": false}, "axis": {"orient": "left", "values": [-0.1,-0.05,0], "title": "Phase\u00a0 [RAD]", "titleFontWeight": "normal", "labelExpr": "'' + datum.value", "labelPadding": 6, "titleX": -51, "titleBaseline": "middle"}}}},
  {"data": {"name": "p2"}, "mark": {"type": "point", "shape": "M-1,0H1M0,-1V1", "filled": false, "color": "#0000ff", "size": 90, "strokeWidth": 1, "opacity": 1, "clip": true},
   "encoding": {"x": {"field": "t", "type": "quantitative", "scale": {"domain": [0, 500], "nice": false, "zero": false}, "axis": {"orient": "top", "values": [0,100,200,300,400,500], "labels": false, "title": null}},
                "y": {"field": "v", "type": "quantitative", "scale": {"domain": [-0.12, 0.04], "nice": false, "zero": false}, "axis": {"orient": "right", "values": [-0.1,-0.05,0], "labels": false, "title": null}}}},
  {"data": {"values": [{"t": 301}, {"t": 336}]}, "mark": {"type": "rule", "color": "#000", "strokeWidth": 1.2},
   "encoding": {"x": {"field": "t", "type": "quantitative", "scale": {"domain": [0, 500], "nice": false, "zero": false}, "axis": null}}}
 ]},
{"width": 296, "height": 202, "resolve": {"axis": {"x": "independent", "y": "independent"}},
 "layer": [
  {"data": {"name": "p3"}, "mark": {"type": "line", "color": "#ff0000", "strokeWidth": 1, "clip": true},
   "encoding": {"x": {"field": "t", "type": "quantitative", "scale": {"domain": [0, 500], "nice": false, "zero": false}, "axis": {"orient": "bottom", "values": [0,100,200,300,400,500], "title": "Time [sec]", "titleFontWeight": "normal", "labelExpr": "'' + datum.value", "labelPadding": 8}},
                "y": {"field": "v", "type": "quantitative", "scale": {"domain": [-2.5, 1], "nice": false, "zero": false}, "axis": {"orient": "left", "values": [-2.5,-2,-1.5,-1,-0.5,0,0.5,1], "title": "Amplitude\u00a0 [mV]", "titleFontWeight": "normal", "labelExpr": "'' + datum.value", "labelPadding": 7, "titleX": -44, "titleBaseline": "middle"}}}},
  {"data": {"name": "p3"}, "mark": {"type": "point", "shape": "M-1,0H1M0,-1V1", "filled": false, "color": "#ff0000", "size": 90, "strokeWidth": 1, "opacity": 1, "clip": true},
   "encoding": {"x": {"field": "t", "type": "quantitative", "scale": {"domain": [0, 500], "nice": false, "zero": false}, "axis": {"orient": "top", "values": [0,100,200,300,400,500], "labels": false, "title": null}},
                "y": {"field": "v", "type": "quantitative", "scale": {"domain": [-2.5, 1], "nice": false, "zero": false}, "axis": {"orient": "right", "values": [-2.5,-2,-1.5,-1,-0.5,0,0.5,1], "labels": false, "title": null}}}},
  {"data": {"values": [{"t": 124}, {"t": 165}, {"t": 308}, {"t": 347}]}, "mark": {"type": "rule", "color": "#000", "strokeWidth": 1.2},
   "encoding": {"x": {"field": "t", "type": "quantitative", "scale": {"domain": [0, 500], "nice": false, "zero": false}, "axis": null}}}
 ]},
{"width": 289, "height": 202, "resolve": {"axis": {"x": "independent", "y": "independent"}},
 "layer": [
  {"data": {"name": "p4"}, "mark": {"type": "line", "color": "#0000ff", "strokeWidth": 1, "clip": true},
   "encoding": {"x": {"field": "t", "type": "quantitative", "scale": {"domain": [0, 500], "nice": false, "zero": false}, "axis": {"orient": "bottom", "values": [0,100,200,300,400,500], "title": "Time [sec]", "titleFontWeight": "normal", "labelExpr": "'' + datum.value", "labelPadding": 8}},
                "y": {"field": "v", "type": "quantitative", "scale": {"domain": [-0.025, 0.015], "nice": false, "zero": false}, "axis": {"orient": "left", "values": [-0.02,-0.01,0,0.01], "title": "Phase\u00a0 [RAD]", "titleFontWeight": "normal", "labelExpr": "'' + datum.value", "labelPadding": 6, "titleX": -50, "titleBaseline": "middle"}}}},
  {"data": {"name": "p4"}, "mark": {"type": "point", "shape": "M-1,0H1M0,-1V1", "filled": false, "color": "#0000ff", "size": 90, "strokeWidth": 1, "opacity": 1, "clip": true},
   "encoding": {"x": {"field": "t", "type": "quantitative", "scale": {"domain": [0, 500], "nice": false, "zero": false}, "axis": {"orient": "top", "values": [0,100,200,300,400,500], "labels": false, "title": null}},
                "y": {"field": "v", "type": "quantitative", "scale": {"domain": [-0.025, 0.015], "nice": false, "zero": false}, "axis": {"orient": "right", "values": [-0.02,-0.01,0,0.01], "labels": false, "title": null}}}},
  {"data": {"values": [{"t": 125}, {"t": 164}, {"t": 307}, {"t": 346}]}, "mark": {"type": "rule", "color": "#000", "strokeWidth": 1.2},
   "encoding": {"x": {"field": "t", "type": "quantitative", "scale": {"domain": [0, 500], "nice": false, "zero": false}, "axis": null}}}
 ]},
{"width": 296, "height": 202, "resolve": {"axis": {"x": "independent", "y": "independent"}},
 "layer": [
  {"data": {"name": "p5"}, "mark": {"type": "line", "color": "#ff0000", "strokeWidth": 1, "clip": true},
   "encoding": {"x": {"field": "t", "type": "quantitative", "scale": {"domain": [0, 700], "nice": false, "zero": false}, "axis": {"orient": "bottom", "values": [0,100,200,300,400,500,600,700], "title": "Time [sec]", "titleFontWeight": "normal", "labelExpr": "'' + datum.value", "labelPadding": 8}},
                "y": {"field": "v", "type": "quantitative", "scale": {"domain": [-0.7, 0.1], "nice": false, "zero": false}, "axis": {"orient": "left", "values": [-0.6,-0.4,-0.2,0], "title": "Amplitude\u00a0 [mV]", "titleFontWeight": "normal", "labelExpr": "'' + datum.value", "labelPadding": 7, "titleX": -43, "titleBaseline": "middle"}}}},
  {"data": {"name": "p5"}, "mark": {"type": "point", "shape": "M-1,0H1M0,-1V1", "filled": false, "color": "#ff0000", "size": 90, "strokeWidth": 1, "opacity": 1, "clip": true},
   "encoding": {"x": {"field": "t", "type": "quantitative", "scale": {"domain": [0, 700], "nice": false, "zero": false}, "axis": {"orient": "top", "values": [0,100,200,300,400,500,600,700], "labels": false, "title": null}},
                "y": {"field": "v", "type": "quantitative", "scale": {"domain": [-0.7, 0.1], "nice": false, "zero": false}, "axis": {"orient": "right", "values": [-0.6,-0.4,-0.2,0], "labels": false, "title": null}}}},
  {"data": {"values": [{"t": 122}, {"t": 182}, {"t": 305}, {"t": 367}, {"t": 486}, {"t": 549}]}, "mark": {"type": "rule", "color": "#000", "strokeWidth": 1.2},
   "encoding": {"x": {"field": "t", "type": "quantitative", "scale": {"domain": [0, 700], "nice": false, "zero": false}, "axis": null}}}
 ]},
{"width": 289, "height": 202, "resolve": {"axis": {"x": "independent", "y": "independent"}},
 "layer": [
  {"data": {"name": "p6"}, "mark": {"type": "line", "color": "#0000ff", "strokeWidth": 1, "clip": true},
   "encoding": {"x": {"field": "t", "type": "quantitative", "scale": {"domain": [0, 700], "nice": false, "zero": false}, "axis": {"orient": "bottom", "values": [0,100,200,300,400,500,600,700], "title": "Time [sec]", "titleFontWeight": "normal", "labelExpr": "'' + datum.value", "labelPadding": 8}},
                "y": {"field": "v", "type": "quantitative", "scale": {"domain": [-0.025, 0.01], "nice": false, "zero": false}, "axis": {"orient": "left", "values": [-0.02,-0.01,0,0.01], "title": "Phase\u00a0 [RAD]", "titleFontWeight": "normal", "labelExpr": "'' + datum.value", "labelPadding": 6, "titleX": -50, "titleBaseline": "middle"}}}},
  {"data": {"name": "p6"}, "mark": {"type": "point", "shape": "M-1,0H1M0,-1V1", "filled": false, "color": "#0000ff", "size": 90, "strokeWidth": 1, "opacity": 1, "clip": true},
   "encoding": {"x": {"field": "t", "type": "quantitative", "scale": {"domain": [0, 700], "nice": false, "zero": false}, "axis": {"orient": "top", "values": [0,100,200,300,400,500,600,700], "labels": false, "title": null}},
                "y": {"field": "v", "type": "quantitative", "scale": {"domain": [-0.025, 0.01], "nice": false, "zero": false}, "axis": {"orient": "right", "values": [-0.02,-0.01,0,0.01], "labels": false, "title": null}}}},
  {"data": {"values": [{"t": 123}, {"t": 182}, {"t": 305}, {"t": 366}, {"t": 487}, {"t": 547}]}, "mark": {"type": "rule", "color": "#000", "strokeWidth": 1.2},
   "encoding": {"x": {"field": "t", "type": "quantitative", "scale": {"domain": [0, 700], "nice": false, "zero": false}, "axis": null}}}
 ]},
{"width": 296, "height": 202, "resolve": {"axis": {"x": "independent", "y": "independent"}},
 "layer": [
  {"data": {"name": "p7"}, "mark": {"type": "line", "color": "#ff0000", "strokeWidth": 1, "clip": true},
   "encoding": {"x": {"field": "t", "type": "quantitative", "scale": {"domain": [0, 700], "nice": false, "zero": false}, "axis": {"orient": "bottom", "values": [0,100,200,300,400,500,600,700], "title": "Time [sec]", "titleFontWeight": "normal", "labelExpr": "'' + datum.value", "labelPadding": 8}},
                "y": {"field": "v", "type": "quantitative", "scale": {"domain": [-2.5, 0.5], "nice": false, "zero": false}, "axis": {"orient": "left", "values": [-2.5,-2,-1.5,-1,-0.5,0,0.5], "title": "Amplitude\u00a0 [mV]", "titleFontWeight": "normal", "labelExpr": "'' + datum.value", "labelPadding": 7, "titleX": -44, "titleBaseline": "middle"}}}},
  {"data": {"name": "p7"}, "mark": {"type": "point", "shape": "M-1,0H1M0,-1V1", "filled": false, "color": "#ff0000", "size": 90, "strokeWidth": 1, "opacity": 1, "clip": true},
   "encoding": {"x": {"field": "t", "type": "quantitative", "scale": {"domain": [0, 700], "nice": false, "zero": false}, "axis": {"orient": "top", "values": [0,100,200,300,400,500,600,700], "labels": false, "title": null}},
                "y": {"field": "v", "type": "quantitative", "scale": {"domain": [-2.5, 0.5], "nice": false, "zero": false}, "axis": {"orient": "right", "values": [-2.5,-2,-1.5,-1,-0.5,0,0.5], "labels": false, "title": null}}}},
  {"data": {"values": [{"t": 122}, {"t": 170}, {"t": 305}, {"t": 356}, {"t": 489}, {"t": 547}]}, "mark": {"type": "rule", "color": "#000", "strokeWidth": 1.2},
   "encoding": {"x": {"field": "t", "type": "quantitative", "scale": {"domain": [0, 700], "nice": false, "zero": false}, "axis": null}}}
 ]},
{"width": 289, "height": 202, "resolve": {"axis": {"x": "independent", "y": "independent"}},
 "layer": [
  {"data": {"name": "p8"}, "mark": {"type": "line", "color": "#0000ff", "strokeWidth": 1, "clip": true},
   "encoding": {"x": {"field": "t", "type": "quantitative", "scale": {"domain": [0, 700], "nice": false, "zero": false}, "axis": {"orient": "bottom", "values": [0,100,200,300,400,500,600,700], "title": "Time [sec]", "titleFontWeight": "normal", "labelExpr": "'' + datum.value", "labelPadding": 8}},
                "y": {"field": "v", "type": "quantitative", "scale": {"domain": [-0.16, 0.02], "nice": false, "zero": false}, "axis": {"orient": "left", "values": [-0.15,-0.1,-0.05,0], "title": "Phase\u00a0 [RAD]", "titleFontWeight": "normal", "labelExpr": "'' + datum.value", "labelPadding": 5, "titleX": -51, "titleBaseline": "middle"}}}},
  {"data": {"name": "p8"}, "mark": {"type": "point", "shape": "M-1,0H1M0,-1V1", "filled": false, "color": "#0000ff", "size": 90, "strokeWidth": 1, "opacity": 1, "clip": true},
   "encoding": {"x": {"field": "t", "type": "quantitative", "scale": {"domain": [0, 700], "nice": false, "zero": false}, "axis": {"orient": "top", "values": [0,100,200,300,400,500,600,700], "labels": false, "title": null}},
                "y": {"field": "v", "type": "quantitative", "scale": {"domain": [-0.16, 0.02], "nice": false, "zero": false}, "axis": {"orient": "right", "values": [-0.15,-0.1,-0.05,0], "labels": false, "title": null}}}},
  {"data": {"values": [{"t": 123}, {"t": 168}, {"t": 305}, {"t": 356}, {"t": 489}, {"t": 545}]}, "mark": {"type": "rule", "color": "#000", "strokeWidth": 1.2},
   "encoding": {"x": {"field": "t", "type": "quantitative", "scale": {"domain": [0, 700], "nice": false, "zero": false}, "axis": null}}}
 ]}
]
}
